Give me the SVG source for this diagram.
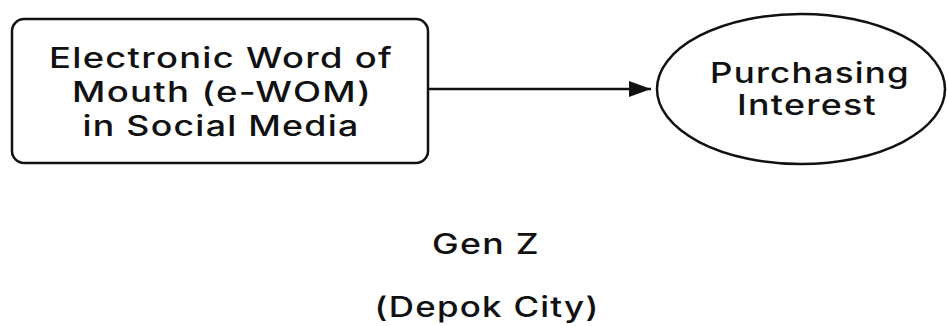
<svg xmlns="http://www.w3.org/2000/svg" width="947" height="326" viewBox="0 0 947 326">
  <defs>
    <style>
      .shape { fill: #ffffff; stroke: #111111; stroke-width: 2.5; }
      .lbl { font-family: Inter, "DejaVu Sans", "Liberation Sans", sans-serif; font-size: 28px; font-weight: 500; letter-spacing: 1px; fill: #111111; text-anchor: middle; }
      .conn { stroke: #111111; stroke-width: 2.5; fill: none; }
    </style>
    <marker id="arrow" markerWidth="22" markerHeight="16" refX="22" refY="8" orient="auto" markerUnits="userSpaceOnUse">
      <path d="M0,0 L22,8 L0,16 Z" fill="#111111"/>
    </marker>
  </defs>
  <rect width="947" height="326" fill="#ffffff"/>
  <g id="connectors">
    <line class="conn" x1="428" y1="89" x2="651" y2="89" marker-end="url(#arrow)"/>
  </g>
  <g id="ewom">
    <rect class="shape" x="12" y="19" width="416" height="144" rx="12" ry="12"/>
    <text class="lbl" x="221" y="68" textLength="344" lengthAdjust="spacingAndGlyphs">Electronic Word of</text>
    <text class="lbl" x="222" y="102" textLength="300" lengthAdjust="spacingAndGlyphs">Mouth (e-WOM)</text>
    <text class="lbl" x="221" y="136" textLength="277" lengthAdjust="spacingAndGlyphs">in Social Media</text>
  </g>
  <g id="interest">
    <ellipse class="shape" cx="801" cy="89" rx="144" ry="75"/>
    <text class="lbl" x="810" y="83" textLength="200" lengthAdjust="spacingAndGlyphs">Purchasing</text>
    <text class="lbl" x="807" y="115" textLength="140" lengthAdjust="spacingAndGlyphs">Interest</text>
  </g>
  <g id="context">
    <text class="lbl" x="486" y="254" textLength="108" lengthAdjust="spacingAndGlyphs">Gen Z</text>
    <text class="lbl" x="487" y="317" textLength="225" lengthAdjust="spacingAndGlyphs">(Depok City)</text>
  </g>
</svg>
